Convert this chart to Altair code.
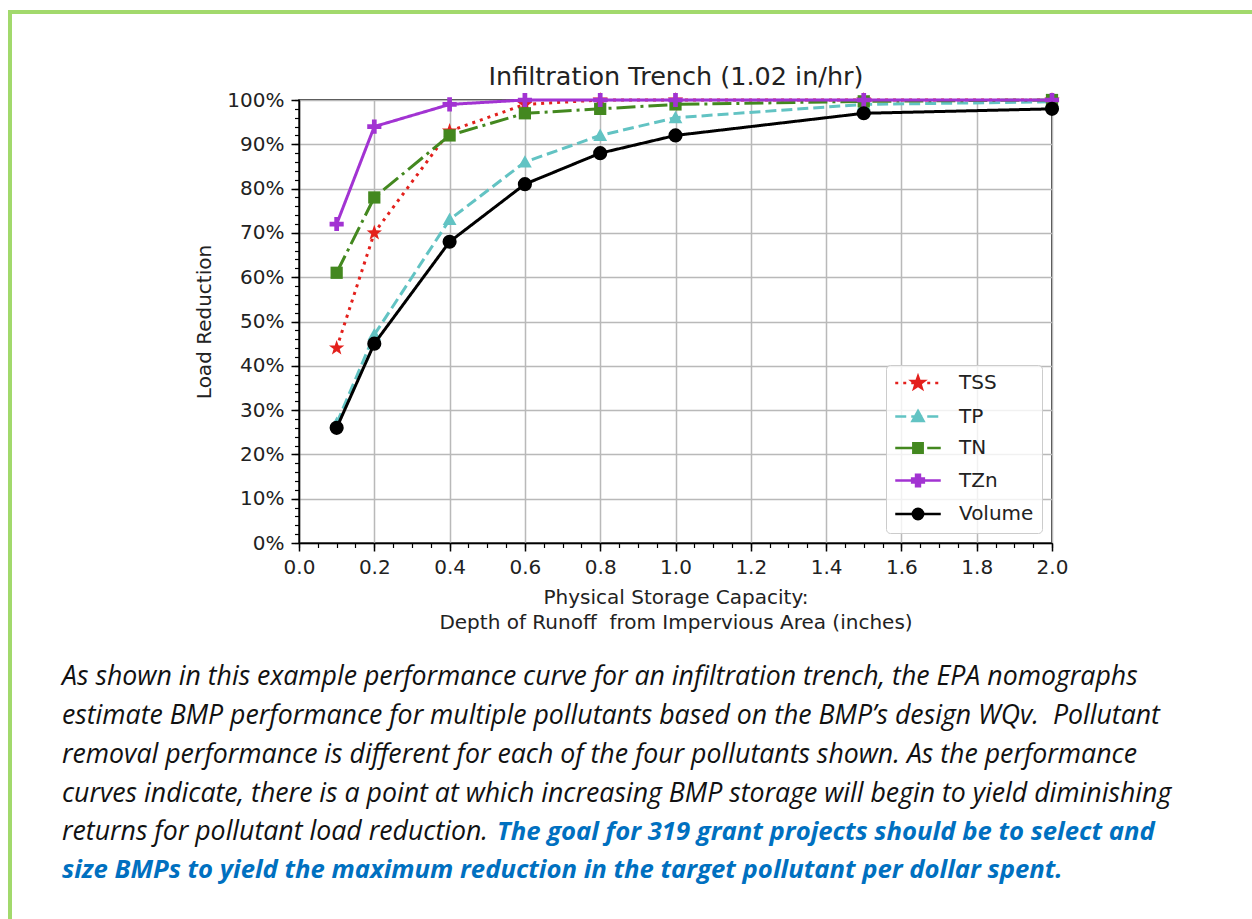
import altair as alt
import pandas as pd
import math

# ---------------- data ----------------
x_vals = [0.1, 0.2, 0.4, 0.6, 0.8, 1.0, 1.5, 2.0]
tss = [44, 70, 93, 99, 100, 100, 100, 100]
tp = [27, 47, 73, 86, 92, 96, 99, 99.6]
tn = [61, 78, 92, 97, 98, 99, 99.7, 100]
tzn = [72, 94, 99, 100, 100, 100, 100, 100]
volume = [26, 45, 68, 81, 88, 92, 97, 98]

series_names = ["TSS", "TP", "TN", "TZn", "Volume"]
series_values = [tss, tp, tn, tzn, volume]

x_major = [0.0, 0.2, 0.4, 0.6, 0.8, 1.0, 1.2, 1.4, 1.6, 1.8, 2.0]
x_minor = [round(i * 0.05, 2) for i in range(41)]
y_major = [0, 10, 20, 30, 40, 50, 60, 70, 80, 90, 100]
y_minor = list(range(0, 101, 2))

title_text = "Infiltration Trench (1.02 in/hr)"
x_title = ["Physical Storage Capacity:", "Depth of Runoff \u00a0from Impervious Area (inches)"]
y_title = "Load Reduction"

para_black = [
    "As shown in this example performance curve for an infiltration trench, the EPA nomographs",
    "estimate BMP performance for multiple pollutants based on the BMP\u2019s design WQv.\u00a0 Pollutant",
    "removal performance is different for each of the four pollutants shown. As the performance",
    "curves indicate, there is a point at which increasing BMP storage will begin to yield diminishing",
    "returns for pollutant load reduction.",
]
para_blue = [
    "The goal for 319 grant projects should be to select and",
    "size BMPs to yield the maximum reduction in the target pollutant per dollar spent.",
]

# ---------------- styles ----------------
colors = ["#e3201c", "#62c3c3", "#43881f", "#a233d2", "#000000"]
dashes = [[3, 5], [11, 5], [19, 5, 3, 5], [1, 0], [1, 0]]


def star(r, ri=0.4):
    pts = []
    for k in range(10):
        ang = math.radians(-90 + 36 * k)
        rr = r if k % 2 == 0 else r * ri
        pts.append((rr * math.cos(ang), rr * math.sin(ang)))
    return "M" + "L".join(f"{a:.3f},{b:.3f}" for a, b in pts) + "Z"


def tri(r):
    return f"M0,{-r:.3f}L{r:.3f},{r*0.8:.3f}L{-r:.3f},{r*0.8:.3f}Z"


def sq(r):
    return f"M{-r:.3f},{-r:.3f}L{r:.3f},{-r:.3f}L{r:.3f},{r:.3f}L{-r:.3f},{r:.3f}Z"


def plus(r):
    t = r / 3
    p = [(-t, -r), (t, -r), (t, -t), (r, -t), (r, t), (t, t), (t, r), (-t, r), (-t, t), (-r, t), (-r, -t), (-t, -t)]
    return "M" + "L".join(f"{a:.3f},{b:.3f}" for a, b in p) + "Z"


def circ(r):
    return f"M{r:.3f},0A{r:.3f},{r:.3f},0,1,1,{-r:.3f},0A{r:.3f},{r:.3f},0,1,1,{r:.3f},0Z"


def segs(pattern, x0=-3.5, x1=3.5):
    parts, x, i = [], x0, 0
    while x < x1 - 1e-6:
        L = pattern[i % len(pattern)]
        if i % 2 == 0:
            parts.append(f"M{x:.2f},0L{min(x + L, x1):.2f},0")
        x += L
        i += 1
    return "".join(parts)


plot_shapes = [star(1.0), tri(1.0), sq(1.0), plus(1.0), "circle"]
plot_sizes = [260, 190, 150, 200, 200]

U = 6.5  # px per legend unit (size 169)
legend_paths = [
    segs([3 / U, 5 / U]) + star(1.0),
    segs([11 / U, 5 / U]) + tri(0.85),
    segs([19 / U, 5 / U, 3 / U, 5 / U]) + sq(0.72),
    "M-3.5,0L3.5,0" + plus(0.9),
    "M-3.5,0L3.5,0" + circ(0.8),
]

FONT = "DejaVu Sans"
TXT = "#222222"
PFONT = "Open Sans"
PSIZE = 26.7
BSIZE = 25.7

rows = []
for name, vals in zip(series_names, series_values):
    for xv, yv in zip(x_vals, vals):
        rows.append({"series": name, "x": xv, "value": yv})
df = pd.DataFrame(rows)

xscale = alt.Scale(domain=[0, 2], nice=False, zero=False)
yscale = alt.Scale(domain=[0, 100], nice=False, zero=False)

x_axis_major = alt.Axis(
    orient="bottom", values=x_major, format=".1f", labelFont=FONT, labelFontSize=20,
    labelColor=TXT, labelPadding=6, labelFlush=False, tickSize=8, tickWidth=1.5,
    tickColor="black", domainColor="black", domainWidth=1.5, grid=True,
    gridColor="#b9b9b9", gridWidth=1.5, title=x_title, titleFont=FONT,
    titleFontSize=20, titleFontWeight="normal", titleColor=TXT, titlePadding=10,
    titleLineHeight=25,
)
y_axis_major = alt.Axis(
    orient="left", values=y_major, labelExpr="datum.value + '%'", labelFont=FONT,
    labelFontSize=20, labelColor=TXT, labelPadding=7, labelFlush=False, tickSize=8,
    tickWidth=1.5, tickColor="black", domainColor="black", domainWidth=1.5, grid=True,
    gridColor="#b9b9b9", gridWidth=1.5, title=y_title, titleFont=FONT, titleFontSize=20,
    titleFontWeight="normal", titleColor=TXT, titlePadding=12,
)
x_axis_minor = alt.Axis(
    orient="bottom", values=x_minor, labels=False, grid=False, domain=False,
    tickSize=4.5, tickWidth=1.2, tickColor="black", title=None,
)
y_axis_minor = alt.Axis(
    orient="left", values=y_minor, labels=False, grid=False, domain=False,
    tickSize=4.5, tickWidth=1.2, tickColor="black", title=None,
)

layers = []
for i, name in enumerate(series_names):
    base = alt.Chart(df).transform_filter(alt.datum.series == name)
    xa = x_axis_major if i == 0 else None
    ya = y_axis_major if i == 0 else None
    line = base.mark_line(
        color=colors[i], strokeWidth=3, strokeDash=dashes[i]
    ).encode(
        x=alt.X("x:Q", scale=xscale, axis=xa),
        y=alt.Y("value:Q", scale=yscale, axis=ya),
    )
    xm = x_axis_minor if i == 0 else None
    ym = y_axis_minor if i == 0 else None
    pts = base.mark_point(
        filled=True, opacity=1, shape=plot_shapes[i], size=plot_sizes[i], color=colors[i]
    ).encode(
        x=alt.X("x:Q", scale=xscale, axis=xm),
        y=alt.Y("value:Q", scale=yscale, axis=ym),
    )
    layers += [line, pts]

leg = alt.Legend(
    orient="none", legendX=587, legendY=265, title=None, labelFont=FONT,
    labelFontSize=20, labelColor=TXT, symbolSize=169, symbolStrokeWidth=2.5,
    symbolOffset=14, labelOffset=31, padding=8, rowPadding=11.5,
    fillColor="rgba(255,255,255,0.8)", strokeColor="#cccccc", cornerRadius=4,
)
legend_layer = alt.Chart(df).transform_filter("false").mark_point(filled=True, opacity=1).encode(
    fill=alt.Fill("series:N", scale=alt.Scale(domain=series_names, range=colors), legend=leg),
    stroke=alt.Stroke("series:N", scale=alt.Scale(domain=series_names, range=colors), legend=leg),
    shape=alt.Shape("series:N", scale=alt.Scale(domain=series_names, range=legend_paths), legend=leg),
)
layers.append(legend_layer)

OX, OY = 299, 100

# chart title as text
layers.append(
    alt.Chart(alt.Data(values=[{"t": title_text}])).mark_text(
        font=FONT, fontSize=25.5, align="center", baseline="middle", color=TXT,
    ).encode(text="t:N", x=alt.value(676 - OX), y=alt.value(77 - OY))
)

# paragraph text (below chart)
base_lines = [685, 724, 763, 802, 840, 878]
for i, t in enumerate(para_black):
    layers.append(
        alt.Chart(alt.Data(values=[{"t": t}])).mark_text(
            font=PFONT, fontStyle="italic", fontSize=PSIZE, align="left",
            baseline="alphabetic", color="#111111",
        ).encode(text="t:N", x=alt.value(62 - OX), y=alt.value(base_lines[i] - OY))
    )
blue_x = [497, 62]
for j, t in enumerate(para_blue):
    layers.append(
        alt.Chart(alt.Data(values=[{"t": t}])).mark_text(
            font=PFONT, fontStyle="italic", fontWeight="bold", fontSize=BSIZE, align="left",
            baseline="alphabetic", color="#0070c0",
        ).encode(text="t:N", x=alt.value(blue_x[j] - OX), y=alt.value(base_lines[4 + j] - OY))
    )

# green page border (top and left)
layers.append(
    alt.Chart(alt.Data(values=[{}])).mark_rect(
        fillOpacity=0, stroke="#a2d96c", strokeWidth=4
    ).encode(
        x=alt.value(10 - OX), x2=alt.value(1400 - OX), y=alt.value(12 - OY), y2=alt.value(1100 - OY)
    )
)

chart = alt.layer(*layers).resolve_axis(x="independent", y="independent").properties(
    width=753, height=443,
    autosize=alt.AutoSizeParams(type="none"),
    padding={"left": OX, "top": OY, "right": 1252 - OX - 753, "bottom": 919 - OY - 443},
    background="white",
).configure_view(stroke="black", strokeWidth=1.5)

chart.save("out.html", embed_options={"renderer": "svg", "actions": False})
